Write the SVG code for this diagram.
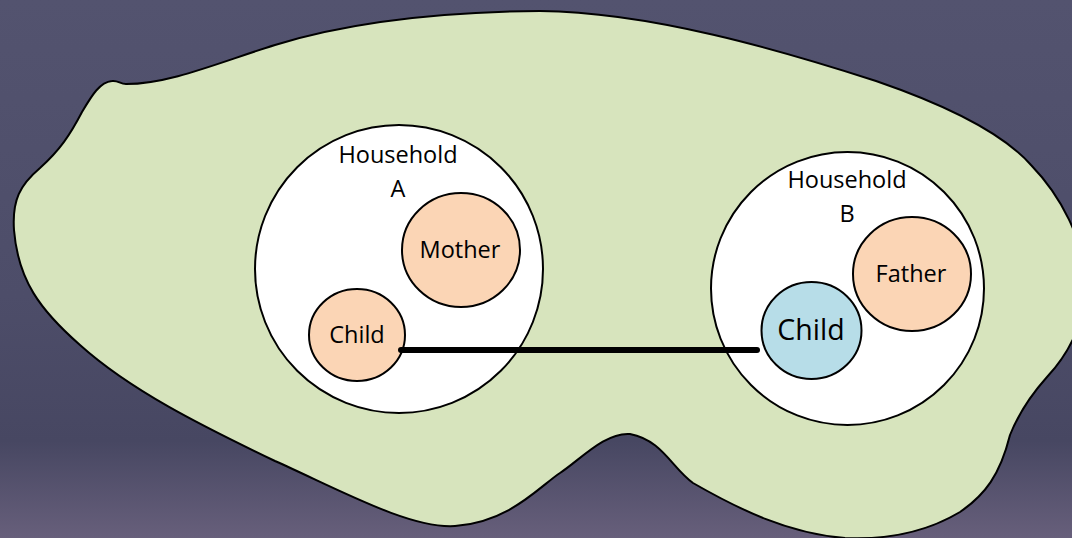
<svg xmlns="http://www.w3.org/2000/svg" width="1072" height="538" viewBox="0 0 1072 538">
<defs>
<linearGradient id="bg" x1="0" y1="0" x2="0" y2="1">
<stop offset="0" stop-color="#53536f"/>
<stop offset="0.55" stop-color="#4d4d69"/>
<stop offset="0.82" stop-color="#474762"/>
<stop offset="1" stop-color="#675f7b"/>
</linearGradient>
</defs>
<style>
.outline{stroke:#000;stroke-width:2;}
.hh{fill:#fff;stroke:#000;stroke-width:2;}
.peach{fill:#fbd5b5;stroke:#000;stroke-width:2;}
.blue{fill:#b7dde8;stroke:#000;stroke-width:2;}
text{font-family:"Open Sans","Noto Sans",sans-serif;fill:#000;text-anchor:middle;}
.lbl{font-size:23.5px;}
.big{font-size:28.5px;}
</style>
<rect x="0" y="0" width="1072" height="538" fill="url(#bg)"/>
<g id="community">
<path class="outline" fill="#d7e4bd" d="M112,81 C118,80 120,84 126,84 C170,84 220,62 275,45 C340,25 430,12 540,11 C650,12 780,50 876,81 C940,103 1000,130 1031,165 C1060,195 1085,240 1085,285 C1085,320 1072,350 1047,377 C1030,396 1018,415 1010,435 C1000,475 985,495 960,512 C930,530 890,540 845,538 C790,534 740,510 693,483 C672,468 662,440 630,434 C605,432 580,460 560,473 C540,486 510,522 455,526 C410,529 340,490 275,461 C200,425 130,390 80,345 C40,310 18,280 14,230 C12,200 20,185 40,168 C60,150 70,135 82,112 C92,95 100,82 112,81 Z"/>
</g>
<g id="household-a">
<circle class="hh" cx="399" cy="269" r="144"/>
<text class="lbl" x="398" y="163">Household</text>
<text class="lbl" x="398" y="197">A</text>
</g>
<g id="mother">
<ellipse class="peach" cx="461" cy="250" rx="59" ry="57"/>
<text class="lbl" x="460" y="258">Mother</text>
</g>
<g id="child-a">
<ellipse class="peach" cx="357" cy="335" rx="48" ry="46"/>
<text class="lbl" x="357" y="343">Child</text>
</g>
<g id="household-b">
<circle class="hh" cx="847.5" cy="288.5" r="136.5"/>
<text class="lbl" x="847" y="188">Household</text>
<text class="lbl" x="847" y="222">B</text>
</g>
<g id="father">
<ellipse class="peach" cx="912" cy="274" rx="59" ry="57"/>
<text class="lbl" x="911" y="282">Father</text>
</g>
<g id="child-b">
<ellipse class="blue" cx="811.5" cy="330.5" rx="50" ry="48.5"/>
<text class="big" x="811" y="340">Child</text>
</g>
<g id="connectors">
<line x1="401" y1="350" x2="757" y2="350" stroke="#000" stroke-width="6" stroke-linecap="round"/>
</g>
</svg>
